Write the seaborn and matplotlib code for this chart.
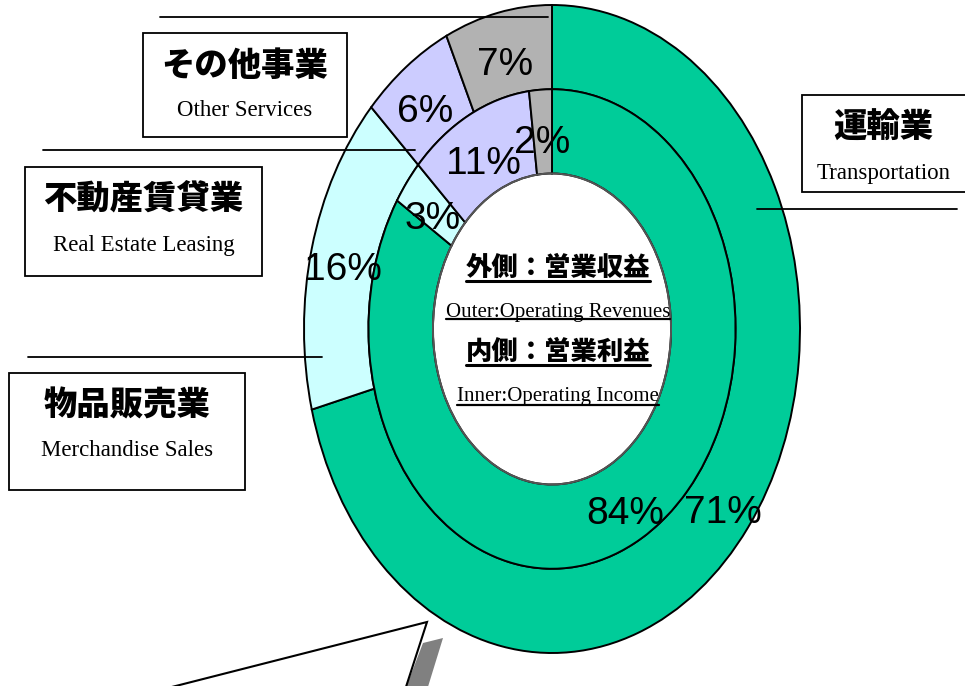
import matplotlib
matplotlib.use("Agg")
import matplotlib.pyplot as plt
import seaborn as sns
from matplotlib.patches import Rectangle, Polygon, Circle
from matplotlib.lines import Line2D

# Data
segments_jp = ["運輸業", "物品販売業", "不動産賃貸業", "その他事業"]
segments_en = ["Transportation", "Merchandise Sales", "Real Estate Leasing", "Other Services"]
outer_revenues = [71, 16, 6, 7]   # 営業収益 (%)
inner_income = [84, 3, 11, 2]     # 営業利益 (%)
seg_colors = ["#00CC99", "#CCFFFF", "#CCCCFF", "#B2B2B2"]

sns.set_style("white")
plt.rcParams['font.family'] = ['Noto Sans CJK JP', 'DejaVu Sans']
plt.rcParams['text.color'] = 'black'

pct_font = dict(family=['Liberation Sans', 'DejaVu Sans'], size=28)

W, H = 965, 686
fig = plt.figure(figsize=(W / 100, H / 100), dpi=100)
ax = fig.add_axes([0, 0, 1, 1])

# outer ring: operating revenues
_, _, outer_txt = ax.pie(outer_revenues, radius=1.0, startangle=90, counterclock=False,
                         colors=seg_colors, autopct='%.0f%%', pctdistance=0.87,
                         wedgeprops=dict(width=0.26, edgecolor='black', linewidth=1.4),
                         textprops=pct_font)
# inner ring: operating income
_, _, inner_txt = ax.pie(inner_income, radius=0.74, startangle=90, counterclock=False,
                         colors=seg_colors, autopct='%.0f%%', pctdistance=0.61 / 0.74,
                         wedgeprops=dict(width=0.26, edgecolor='black', linewidth=1.4),
                         textprops=pct_font)
for t in outer_txt + inner_txt:
    x, y = t.get_position()
    t.set_position((x, y - 0.035))
ax.add_patch(Circle((0, 0), 0.48, fill=False, ec='#555555', lw=1.4, zorder=5))

# stretch the rings into the elliptical look of the original
cx, cy, rx, ry = 552, 329, 248, 324
ax.set_aspect('auto')
ax.set_xlim(-cx / rx, (W - cx) / rx)
ax.set_ylim(-(H - cy) / ry, cy / ry)
ax.axis('off')


def P(x, y):
    return x / W, 1 - y / H


# label boxes and leader lines (pixel positions)
boxes = {
    "運輸業": dict(box=(802, 95, 975, 192), line=((757, 209), (957, 209))),
    "物品販売業": dict(box=(9, 373, 245, 490), line=((28, 357), (322, 357))),
    "不動産賃貸業": dict(box=(25, 167, 262, 276), line=((43, 150), (415, 150))),
    "その他事業": dict(box=(143, 33, 347, 137), line=((160, 17), (548, 17))),
}
for jp, en in zip(segments_jp, segments_en):
    b = boxes[jp]
    x0, y0, x1, y1 = b["box"]
    fig.add_artist(Rectangle(P(x0, y1), (x1 - x0) / W, (y1 - y0) / H,
                             transform=fig.transFigure, fill=True, fc='white',
                             ec='black', lw=1.3))
    (lx0, ly0), (lx1, ly1) = b["line"]
    fig.add_artist(Line2D([lx0 / W, lx1 / W], [1 - ly0 / H, 1 - ly1 / H],
                          transform=fig.transFigure, color='black', lw=1.3))
    xc = (x0 + min(x1, W)) / 2 if x1 > W else (x0 + x1) / 2
    fig.text(*P(xc, y0 + 32), jp, ha='center', va='center', fontsize=24,
             fontweight='heavy')
    fig.text(*P(xc, y0 + 78), en, ha='center', va='center', fontsize=16.5,
             family=['Liberation Serif', 'DejaVu Serif'])

# centre legend text
centre = [
    ("外側：営業収益", 268, dict(fontsize=19, fontweight='heavy')),
    ("Outer:Operating Revenues", 312, dict(fontsize=15, family=['Liberation Serif'])),
    ("内側：営業利益", 352, dict(fontsize=19, fontweight='heavy')),
    ("Inner:Operating Income", 397, dict(fontsize=15, family=['Liberation Serif'])),
]
centre_texts = []
for s, y, kw in centre:
    t = fig.text(*P(558, y), s, ha='center', va='center', **kw)
    centre_texts.append((t, 'fontweight' in kw))

# underline the centre texts
fig.canvas.draw()
r = fig.canvas.get_renderer()
for t, bold in centre_texts:
    bb = t.get_window_extent(r)
    yl = bb.y0 + (1 if bold else 2)
    fig.add_artist(Line2D([bb.x0 / W, bb.x1 / W], [yl / H, yl / H],
                          transform=fig.transFigure, color='black',
                          lw=2.2 if bold else 1.6))

# callout shape at the bottom (cut off by the frame)
fig.add_artist(Polygon([P(423, 643), P(443, 638), P(427, 690), P(405, 690)],
                       closed=True, transform=fig.transFigure, fc='#808080',
                       ec='none'))
fig.add_artist(Polygon([P(160, 690), P(427, 622), P(405, 690)], closed=True,
                       transform=fig.transFigure, fc='white', ec='black', lw=1.5))

fig.savefig("out.png", dpi=100)
